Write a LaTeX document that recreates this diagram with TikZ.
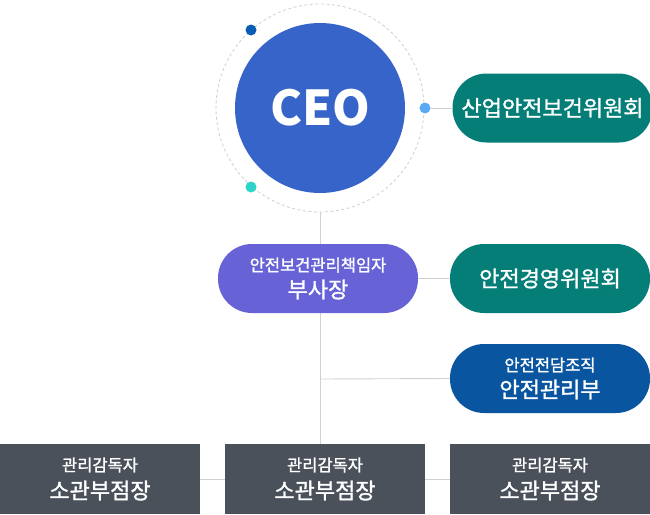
\documentclass[tikz,border=0pt]{standalone}
\usepackage{fontspec}
\setmainfont{Noto Sans CJK KR}
\newfontfamily\medfont[FakeBold=1.3]{Noto Sans CJK KR}
\definecolor{ceoblue}{HTML}{3664C8}
\definecolor{teal1}{HTML}{067E78}
\definecolor{purp}{HTML}{6763D6}
\definecolor{navy}{HTML}{0A55A0}
\definecolor{boxgray}{HTML}{4A515B}
\definecolor{lineg}{HTML}{D0D0D0}
\definecolor{dotA}{HTML}{0A5DB5}
\definecolor{dotB}{HTML}{5AA9F5}
\definecolor{dotC}{HTML}{2DD4C8}
\newcommand{\smtxt}{\medfont\fontsize{16.5pt}{19pt}\selectfont}
\newcommand{\bgtxt}{\medfont\fontsize{22pt}{25pt}\selectfont}
\begin{document}
\begin{tikzpicture}[x=1pt,y=-1pt,
  conn/.style={draw=lineg, line width=0.9pt},
  pill/.style={rounded corners=34pt, minimum width=200pt, minimum height=69pt, text=white, align=center, inner sep=0pt},
  orgbox/.style={minimum width=200pt, minimum height=70pt, fill=boxgray, text=white, align=center, inner sep=0pt},
  dot/.style={circle, minimum size=11pt, inner sep=0pt}]
\useasboundingbox (0,0) rectangle (650,514);
% outer dashed ring
\node[circle, draw=lineg, dashed, dash pattern=on 3pt off 2.5pt, line width=0.8pt, minimum size=208pt, inner sep=0pt] (ring) at (320,108) {};
% bottom boxes
\node[orgbox] (b1) at (100,479) {\smtxt 관리감독자\\[7pt]\bgtxt 소관부점장};
\node[orgbox] (b2) at (325,479) {\smtxt 관리감독자\\[7pt]\bgtxt 소관부점장};
\node[orgbox] (b3) at (550,479) {\smtxt 관리감독자\\[7pt]\bgtxt 소관부점장};
% connectors (behind)
\coordinate (vtop) at (320,212);
\coordinate (vbot) at (320,444);
\coordinate (vmid) at (320,379);
\draw[conn] (vtop) -- (vbot);
\node[pill, fill=teal1] (c1) at (552.5,108) {\bgtxt 산업안전보건위원회};
\node[pill, fill=purp] (vp) at (318,278.5) {\smtxt 안전보건관리책임자\\[6pt]\bgtxt 부사장};
\node[pill, fill=teal1] (c2) at (550,278.5) {\bgtxt 안전경영위원회};
\node[pill, fill=navy] (c3) at (550,378.5) {\smtxt 안전전담조직\\[6pt]\bgtxt 안전관리부};
\draw[conn] (vp.east) -- (c2.west);
\draw[conn] (vmid) -- (c3.west);
\draw[conn] (b1.east) -- (b2.west);
\draw[conn] (b2.east) -- (b3.west);
% CEO circle
\node[circle, fill=ceoblue, minimum size=170pt, inner sep=0pt, text=white, font=\fontsize{48pt}{50pt}\selectfont\bfseries] (ceo) at (320,108) {CEO};
\node[dot, fill=dotB] (d2) at (425,108) {};
\draw[conn] (d2.east) -- (c1.west);
\node[dot, fill=dotA] (d1) at (251,30) {};
\node[dot, fill=dotC] (d3) at (251,187) {};
\end{tikzpicture}
\end{document}
